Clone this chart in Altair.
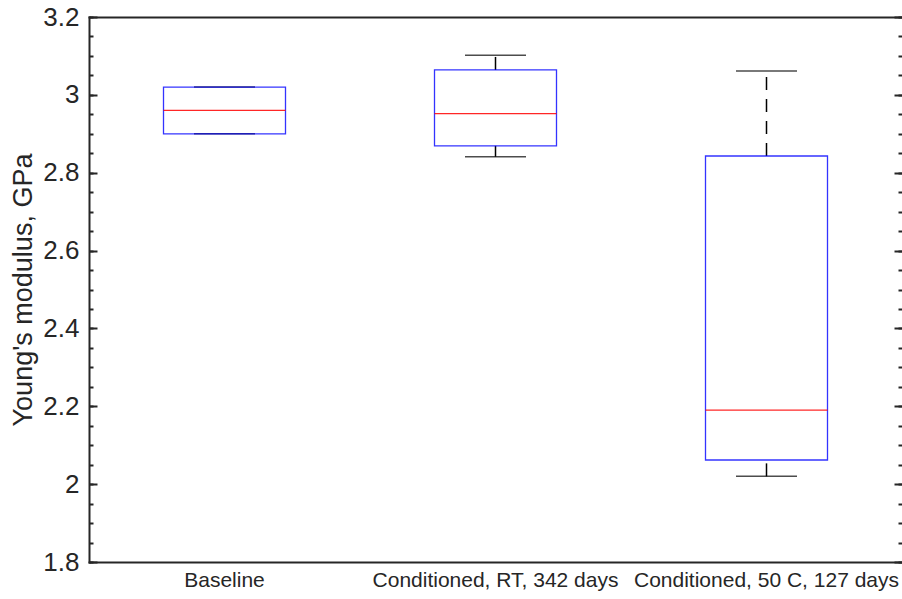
import altair as alt
import pandas as pd

# Young's modulus box-plot summaries (GPa) per conditioning group
groups = ["Baseline", "Conditioned, RT, 342 days", "Conditioned, 50 C, 127 days"]
q1 = [2.90, 2.869, 2.062]
median = [2.96, 2.952, 2.19]
q3 = [3.02, 3.064, 2.843]
whisker_low = [2.90, 2.841, 2.02]
whisker_high = [3.02, 3.102, 3.061]

# y-axis tick positions
major_ticks = [1.8, 2.0, 2.2, 2.4, 2.6, 2.8, 3.0, 3.2]
minor_ticks = [round(1.8 + 0.05 * i, 2) for i in range(29)]

INK = "#262626"
FONT = "Liberation Sans"

boxes = pd.DataFrame({"group": groups, "q1": q1, "median": median, "q3": q3})

whiskers = pd.DataFrame({
    "group": groups + groups,
    "lo": whisker_low + q3,
    "hi": q1 + whisker_high,
})

caps = pd.DataFrame({
    "group": groups + groups,
    "value": whisker_low + whisker_high,
})

x_scale = alt.Scale(paddingInner=0, paddingOuter=0)
y_scale = alt.Scale(domain=[1.8, 3.2], nice=False, zero=False)

left_major = alt.Axis(
    orient="left", values=major_ticks, format="~g", grid=False,
    tickSize={"expr": "-8"}, tickWidth=2, tickColor=INK,
    domain=True, domainColor=INK, domainWidth=2, domainCap="square",
    labelFont=FONT, labelFontSize=26, labelColor=INK, labelPadding=18,
    labelFlush=False, labelOverlap=False,
    title="Young's modulus, GPa", titleFont=FONT, titleFontSize=27,
    titleFontWeight="normal", titleColor=INK, titlePadding=5,
)
left_minor = alt.Axis(
    orient="left", values=minor_ticks, grid=False, labels=False, domain=False,
    tickSize={"expr": "-4"}, tickWidth=2, tickColor=INK, title="",
)
right_major = alt.Axis(
    orient="right", values=major_ticks, grid=False, labels=False, domain=False,
    tickSize={"expr": "-8"}, tickWidth=2, tickColor=INK, title="",
)
right_minor = alt.Axis(
    orient="right", values=minor_ticks, grid=False, labels=False, domain=False,
    tickSize={"expr": "-4"}, tickWidth=2, tickColor=INK, title="",
)

bottom_axis = alt.Axis(
    orient="bottom", ticks=False, grid=False, labelAngle=0,
    domain=True, domainColor=INK, domainWidth=2, domainCap="square",
    labelFont=FONT, labelFontSize=21, labelColor=INK, labelPadding=7,
    labelOverlap=False, labelLimit=600, title="",
)
top_axis = alt.Axis(
    orient="top", ticks=False, labels=False, grid=False,
    domain=True, domainColor=INK, domainWidth=2, domainCap="square", title="",
)

whisker_layer = alt.Chart(whiskers).mark_rule(
    color="black", strokeWidth=1.5, strokeDash=[13, 9]
).encode(
    x=alt.X("group:N", sort=groups, scale=x_scale, axis=top_axis),
    y=alt.Y("lo:Q", scale=y_scale, axis=left_minor),
    y2="hi:Q",
)

cap_layer = alt.Chart(caps).mark_tick(
    color="black", size=61, thickness=1.5
).encode(
    x=alt.X("group:N", sort=groups, axis=None),
    y=alt.Y("value:Q", scale=y_scale, axis=right_major),
)

box_layer = alt.Chart(boxes).mark_bar(
    width=122, fill="white", fillOpacity=0,
    stroke="#0000ff", strokeWidth=1.3, strokeOpacity=0.8,
).encode(
    x=alt.X("group:N", sort=groups, axis=bottom_axis),
    y=alt.Y("q1:Q", scale=y_scale, axis=left_major),
    y2="q3:Q",
)

median_layer = alt.Chart(boxes).mark_tick(
    color="#ff0000", size=122, thickness=1.3, opacity=0.85
).encode(
    x=alt.X("group:N", sort=groups, axis=None),
    y=alt.Y("median:Q", scale=y_scale, axis=right_minor),
)

chart = (
    alt.layer(whisker_layer, cap_layer, box_layer, median_layer)
    .resolve_axis(x="independent", y="independent")
    .properties(
        width=813,
        height=545,
        padding={"left": 89, "top": 17, "right": 0, "bottom": 37},
        autosize=alt.AutoSizeParams(type="none"),
        background="white",
    )
    .configure_view(stroke="transparent")
)

chart.save("out.html", embed_options={"renderer": "svg", "actions": False})
